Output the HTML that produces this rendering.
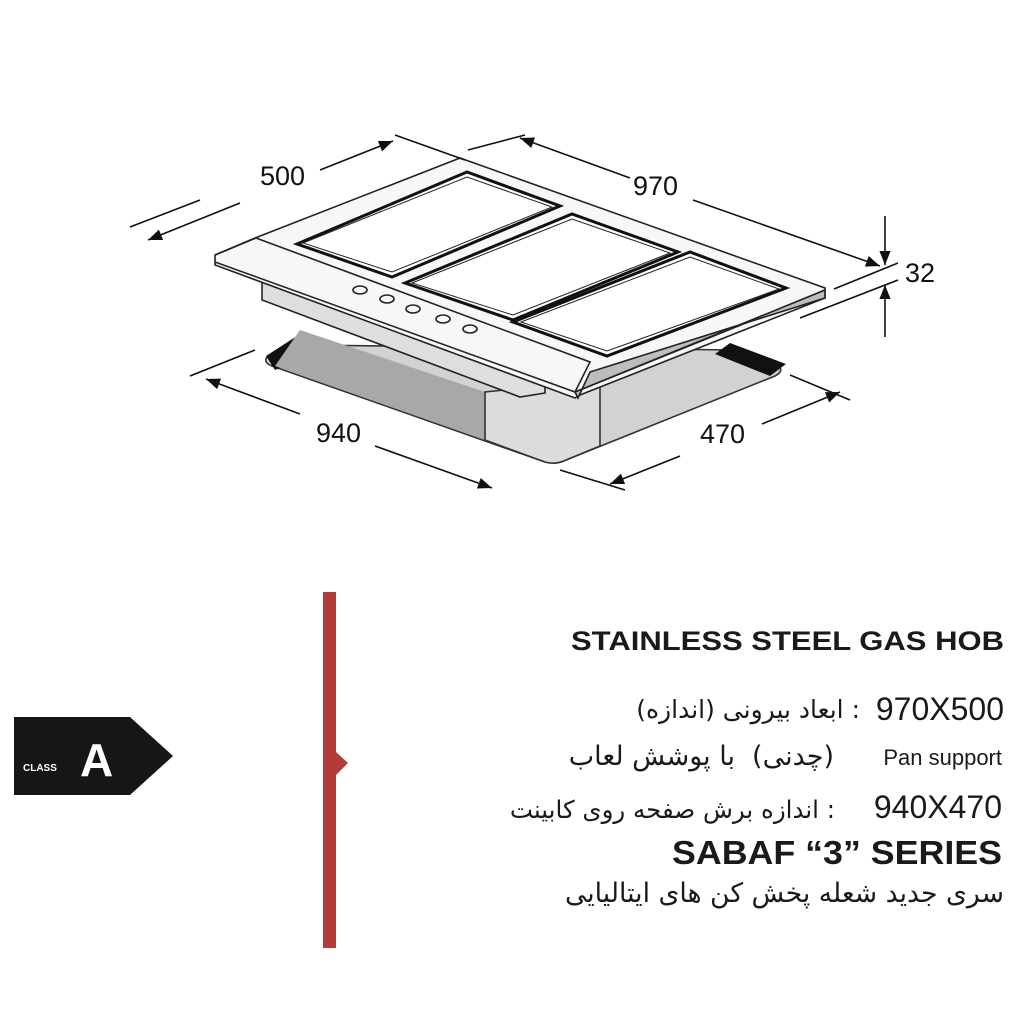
<!DOCTYPE html>
<html><head><meta charset="utf-8"><style>
html,body{margin:0;padding:0;background:#fff;}
svg{display:block}
</style></head><body>
<svg width="1024" height="1024" viewBox="0 0 1024 1024" xmlns="http://www.w3.org/2000/svg">
<defs>
<marker id="ar2" viewBox="0 0 10 10" refX="10" refY="5" markerWidth="18" markerHeight="14" orient="auto-start-reverse" markerUnits="userSpaceOnUse"><path d="M0,1 L10,5 L0,9 z" fill="#111"/></marker>
</defs>
<rect width="1024" height="1024" fill="#fff"/>
<g stroke="#222" stroke-width="1.6" fill="none">
<path d="M268,356 Q262,362 272,366 L545,462 Q556,465 566,460 L775,376 Q786,370 776,364 L735,350 L300,345 Z" fill="#d2d2d2" stroke="#333"/>
<path d="M266,356 L300,334 L335,345 L275,370 Z" fill="#111" stroke="none"/>
<path d="M730,343 L786,364 L770,376 L715,354 Z" fill="#111" stroke="none"/>
<path d="M275,366 L485,440 L485,392 L300,330 Z" fill="#a8a8a8" stroke="none"/>
<path d="M485,392 L485,440 L545,462 Q556,465 566,460 L600,446 L600,380 Z" fill="#dcdcdc" stroke="#333"/>
<path d="M262,282 L262,300 L520,397 L545,393 L545,370 Z" fill="#dedede"/>
<path d="M215,255 L255,238 L460,158 L825,288 L825,298 L580,395 L575,398 L215,265 Z" fill="#f7f7f7"/>
<path d="M215,262 L575,392 L825,291" />
<path d="M215,255 L256,238 L590,362 L575,392" fill="none"/>
<path d="M575,392 L578,398 L590,372 L825,298 L825,290 Z" fill="#bdbdbd"/>
<path d="M297,244 L467,172 L560,206 L392,277 Z" fill="#fff" stroke="#111" stroke-width="3"/>
<path d="M303,243 L467,177 L552,207 L392,272 Z" fill="none" stroke-width="1"/>
<path d="M405,283 L572,214 L678,252 L513,320 Z" fill="#fff" stroke="#111" stroke-width="3"/>
<path d="M412,283 L572,219 L670,253 L513,315 Z" fill="none" stroke-width="1"/>
<path d="M513,322 L690,252 L786,288 L607,356 Z" fill="#fff" stroke="#111" stroke-width="3"/>
<path d="M521,322 L690,257 L779,289 L607,351 Z" fill="none" stroke-width="1"/>
<ellipse cx="360" cy="290" rx="7" ry="4"/>
<ellipse cx="387" cy="299" rx="7" ry="4"/>
<ellipse cx="413" cy="309" rx="7" ry="4"/>
<ellipse cx="443" cy="319" rx="7" ry="4"/>
<ellipse cx="470" cy="329" rx="7" ry="4"/>
</g>
<g stroke="#111" stroke-width="1.6" fill="none">
<line x1="130" y1="227" x2="200" y2="200"/>
<line x1="395" y1="135" x2="465" y2="160"/>
<line x1="148" y1="240" x2="240" y2="203" marker-start="url(#ar2)"/>
<line x1="320" y1="170" x2="393" y2="141" marker-end="url(#ar2)"/>
<line x1="468" y1="150" x2="525" y2="135"/>
<line x1="520" y1="138" x2="630" y2="178" marker-start="url(#ar2)"/>
<line x1="693" y1="200" x2="880" y2="266" marker-end="url(#ar2)"/>
<line x1="834" y1="289" x2="898" y2="263"/>
<line x1="800" y1="318" x2="898" y2="280"/>
<line x1="885" y1="216" x2="885" y2="265" marker-end="url(#ar2)"/>
<line x1="885" y1="337" x2="885" y2="285" marker-end="url(#ar2)"/>
<line x1="190" y1="376" x2="255" y2="350"/>
<line x1="206" y1="379" x2="300" y2="414" marker-start="url(#ar2)"/>
<line x1="375" y1="446" x2="492" y2="488" marker-end="url(#ar2)"/>
<line x1="790" y1="375" x2="850" y2="400"/>
<line x1="560" y1="470" x2="625" y2="490"/>
<line x1="610" y1="484" x2="680" y2="456" marker-start="url(#ar2)"/>
<line x1="762" y1="424" x2="840" y2="392" marker-end="url(#ar2)"/>
</g>
<g font-family="Liberation Sans, Arial, sans-serif" font-size="27" fill="#111">
<text x="260" y="185">500</text>
<text x="633" y="195">970</text>
<text x="905" y="282">32</text>
<text x="316" y="442">940</text>
<text x="700" y="443">470</text>
</g>
<rect x="323" y="592" width="13" height="356" fill="#b53a3a"/>
<path d="M336,752 L348,763 L336,775 Z" fill="#b53a3a"/>
<path d="M14,717 L130,717 L173,756 L130,795 L14,795 Z" fill="#161616"/>
<text x="23" y="771" font-family="Liberation Sans, Arial, sans-serif" font-size="10" font-weight="bold" fill="#fff">CLASS</text>
<text x="80" y="776" font-family="Liberation Sans, Arial, sans-serif" font-size="46" font-weight="bold" fill="#fff">A</text>
<g font-family="Liberation Sans, 'DejaVu Sans', sans-serif" fill="#1a1a1a" text-anchor="end">
<text x="1004" y="650" font-size="27" font-weight="bold" textLength="433" lengthAdjust="spacingAndGlyphs">STAINLESS STEEL GAS HOB</text>
<text x="1004" y="720" font-size="32">970X500</text>
<text x="860" y="718" font-size="25" font-family="'DejaVu Sans', sans-serif">ابعاد بیرونی (اندازه) :</text>
<text x="1002" y="765" font-size="22">Pan support</text>
<text x="834" y="765" font-size="27" font-family="'DejaVu Sans', sans-serif">(چدنی)</text>
<text x="735" y="765" font-size="27" font-family="'DejaVu Sans', sans-serif">با پوشش لعاب</text>
<text x="1002" y="818" font-size="32">940X470</text>
<text x="835" y="818" font-size="24.5" font-family="'DejaVu Sans', sans-serif">اندازه برش صفحه روی کابینت :</text>
<text x="1002" y="864" font-size="33" font-weight="bold" textLength="330" lengthAdjust="spacingAndGlyphs">SABAF  “3” SERIES</text>
<text x="1004" y="902" font-size="26.7" font-family="'DejaVu Sans', sans-serif">سری جدید شعله پخش کن های ایتالیایی</text>
</g>
</svg>
</body></html>
